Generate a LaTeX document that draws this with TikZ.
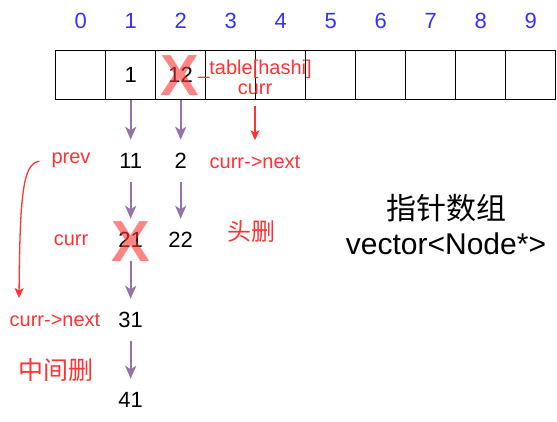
\documentclass[tikz,border=0pt]{standalone}
\usepackage{fontspec}
\setmainfont{Liberation Sans}
\newfontfamily\cjk{Noto Sans CJK SC}
\usetikzlibrary{arrows.meta}
\definecolor{idxblue}{RGB}{51,51,255}
\definecolor{notered}{RGB}{255,51,51}
\definecolor{linkpurple}{RGB}{150,115,166}

\begin{document}
\begin{tikzpicture}[
    x=1pt, y=-1pt,
    font=\fontsize{20}{20}\selectfont,
    every node/.style = {align=center},
    idx/.style   = {text=idxblue, inner sep=0pt, font=\fontsize{22}{22}\selectfont},
    cell/.style  = {draw, line width=1pt, minimum width=50pt,
                    minimum height=49.3pt, inner sep=0pt},
    val/.style   = {font=\fontsize{22}{22}\selectfont},
    num/.style   = {val, minimum height=42pt, inner sep=0pt},
    note/.style  = {text=notered, inner sep=0pt},
    bignote/.style = {note, font=\cjk\fontsize{24}{24}\selectfont},
    cross/.style = {font=\fontsize{58}{58}\selectfont\bfseries, text=notered,
                    text opacity=0.6, inner sep=0pt},
    link/.style  = {-{Stealth[length=13pt,width=11pt,inset=3.5pt]},
                    draw=linkpurple, line width=2pt},
    rlink/.style = {-{Stealth[length=10pt,width=9pt,inset=2.5pt]},
                    draw=notered, line width=1.3pt},
]
\useasboundingbox (0,0) rectangle (557,422);

% ---------------- Array ----------------
\foreach \i in {0,...,9} {
  \node[idx]  (idx\i) at (80.7+50*\i, 21)   {\i};
  \node[cell] (c\i)   at (80.7+50*\i, 75.3) {};
}
\node[val] (v1)  at (c1) {1};
\node[val] (v12) at (c2) {12};

% ---------------- Lists ----------------
\node[num] (n11) at (130.7,161) {11};
\node[num] (n21) at (130.7,240) {21};
\node[num] (n31) at (130.7,320) {31};
\node[num] (n41) at (130.7,400) {41};
\node[num] (n2)  at (180.7,161) {2};
\node[num] (n22) at (180.7,240) {22};

\draw[link] (c1.south) -- (n11.north);
\draw[link] (n11) -- (n21);
\draw[link] (n21) -- (n31);
\draw[link] (n31) -- (n41);
\draw[link] (c2.south) -- (n2.north);
\draw[link] (n2) -- (n22);

% ---------------- Notes ----------------
\node[note] (table) at (255,77)  {\_table[hashi]\\curr};
\node[note] (next1) at (255,162) {curr->next};
\node[note] (prev)  at (71,160)  {prev};
\node[note] (curr)  at (71,240)  {curr};
\node[note] (next2) at (55,320)  {curr->next};
\node[bignote] (headdel) at (251,232) {头删};
\node[bignote, font=\cjk\fontsize{25}{25}\selectfont] (middel) at (56,370) {中间删};

\draw[rlink, shorten <=11pt, shorten >=15pt] (table.south) -- (next1.north);

\coordinate (drop) at (19,298);
\draw[rlink, shorten <=12pt] (prev.west) .. controls (22,163) and (20,200) .. (drop);

% ---------------- Deleted ----------------
\node[cross] (del12) at (180,76)  {X};
\node[cross] (del21) at (131,242) {X};

% ---------------- Title ----------------
\node[font=\fontsize{30}{35}\selectfont] (title) at (446,225)
    {{\cjk 指针数组}\\vector<Node*>};

\end{tikzpicture}
\end{document}
